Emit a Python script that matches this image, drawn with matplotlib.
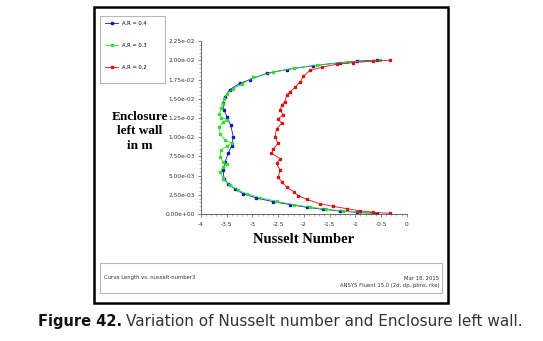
import matplotlib
matplotlib.use("Agg")
import matplotlib.pyplot as plt
from matplotlib.patches import Rectangle
from matplotlib.ticker import MultipleLocator, AutoMinorLocator

# A.R = 0.4 (blue)
ar04_nu = [-0.57, -0.97, -1.30, -1.82, -2.33, -2.72, -3.05, -3.24, -3.44, -3.53,
           -3.57, -3.55, -3.49, -3.42, -3.37, -3.40, -3.47, -3.53, -3.57, -3.55,
           -3.47, -3.34, -3.18, -2.92, -2.59, -2.27, -1.94, -1.62, -1.30, -0.97, -0.57]
ar04_y = [0.02003, 0.0199, 0.0197, 0.0193, 0.0188, 0.0183, 0.0175, 0.0170, 0.0162, 0.01525,
          0.0144, 0.0135, 0.0126, 0.01155, 0.0100, 0.0089, 0.0079, 0.0068, 0.0057, 0.0046,
          0.0039, 0.00326, 0.00265, 0.00208, 0.0016, 0.00122, 0.00087, 0.00061, 0.00039, 0.00022, 0.00004]

# A.R = 0.3 (green)
ar03_nu = [-0.52, -1.17, -1.75, -2.20, -2.59, -2.98, -3.21, -3.37, -3.49, -3.55,
           -3.58, -3.60, -3.64, -3.60, -3.49, -3.57, -3.64, -3.63, -3.53, -3.40,
           -3.50, -3.61, -3.63, -3.57, -3.49, -3.57, -3.62, -3.57, -3.44, -3.27,
           -3.11, -2.85, -2.53, -2.20, -1.88, -1.56, -1.23, -0.91, -0.71]
ar03_y = [0.01998, 0.01976, 0.01937, 0.01898, 0.01846, 0.01777, 0.0169, 0.01633, 0.01568, 0.01503,
          0.01429, 0.01386, 0.01307, 0.01255, 0.01229, 0.01199, 0.01134, 0.01047, 0.0096, 0.00925,
          0.00882, 0.0083, 0.00743, 0.00678, 0.00656, 0.00612, 0.00547, 0.0046, 0.00374, 0.00308,
          0.00265, 0.00213, 0.00165, 0.00122, 0.00091, 0.00061, 0.00039, 0.00022, 0.00009]

# A.R = 0.2 (red)
ar02_nu = [-0.32, -0.65, -1.04, -1.36, -1.65, -1.88, -2.01, -2.07, -2.17, -2.27,
           -2.33, -2.37, -2.43, -2.46, -2.40, -2.50, -2.43, -2.53, -2.56, -2.50,
           -2.59, -2.63, -2.46, -2.53, -2.46, -2.50, -2.43, -2.33, -2.20, -2.11,
           -1.94, -1.69, -1.43, -1.17, -0.91, -0.65, -0.32]
ar02_y = [0.02003, 0.0199, 0.0197, 0.0195, 0.0191, 0.0187, 0.0179, 0.0172, 0.0165, 0.0159,
          0.0155, 0.0146, 0.0142, 0.0135, 0.0129, 0.0124, 0.0118, 0.0111, 0.0100, 0.0092,
          0.0085, 0.0079, 0.0072, 0.0066, 0.0057, 0.0048, 0.0042, 0.0035, 0.0029, 0.0024,
          0.0019, 0.00135, 0.0010, 0.0007, 0.00043, 0.00022, 0.00009]

series = [
    ("A.R = 0.4", ar04_nu, ar04_y, "#1414c8"),
    ("A.R = 0.3", ar03_nu, ar03_y, "#33dd33"),
    ("A.R = 0.2", ar02_nu, ar02_y, "#dd1111"),
]

fig = plt.figure(figsize=(5.43, 3.41), dpi=100)
ax = fig.add_axes([0.370, 0.3724, 0.379, 0.507])

handles = []
for label, xs, ys, col in series:
    h, = ax.plot(xs, ys, color=col, lw=0.6, marker="s", ms=1.7, mec=col, mfc=col, label=label)
    handles.append(h)

ax.set_xlim(-4, 0)
ax.set_ylim(0, 0.0225)
ax.xaxis.set_major_locator(MultipleLocator(0.5))
ax.yaxis.set_major_locator(MultipleLocator(0.0025))
ax.xaxis.set_minor_locator(AutoMinorLocator(5))
ax.yaxis.set_minor_locator(AutoMinorLocator(5))
ax.yaxis.set_major_formatter(plt.FuncFormatter(lambda v, p: f"{v:.2e}"))
ax.xaxis.set_major_formatter(plt.FuncFormatter(lambda v, p: f"{v:g}"))
for s in ["top", "right"]:
    ax.spines[s].set_visible(False)
for s in ["left", "bottom"]:
    ax.spines[s].set_color("#555555")
    ax.spines[s].set_linewidth(0.6)
ax.tick_params(which="major", length=2.5, width=0.5, color="#555555", labelsize=4.2,
               labelcolor="#333333", pad=2)
ax.tick_params(axis="x", which="major", pad=3.5)
ax.tick_params(which="minor", length=1.3, width=0.4, color="#777777")

ax.set_xlabel("Nusselt Number", family="Liberation Serif", weight="bold", fontsize=10.5, labelpad=4)
fig.text(0.257, 0.615, "Enclosure\nleft wall\nin m", family="Liberation Serif", weight="bold",
         fontsize=9.5, ha="center", va="center", linespacing=1.3)

# outer frame, legend box, footer box
fig.add_artist(Rectangle((0.173, 0.111), 0.652, 0.868, transform=fig.transFigure,
                         fill=False, ec="black", lw=1.8))
fig.add_artist(Rectangle((0.184, 0.757), 0.120, 0.196, transform=fig.transFigure,
                         fill=False, ec="#b8b8b8", lw=0.8))
fig.add_artist(Rectangle((0.184, 0.141), 0.630, 0.088, transform=fig.transFigure,
                         fill=False, ec="#b8b8b8", lw=0.8))

fig.legend(handles=handles, loc="upper left", bbox_to_anchor=(0.186, 0.95), frameon=False,
           fontsize=3.8, handlelength=2.6, handletextpad=0.6, labelspacing=3.2, borderpad=0.2)

fig.text(0.191, 0.185, "Curve Length vs. nusselt-number3", fontsize=3.8, color="#333333", va="center")
fig.text(0.809, 0.185, "Mar 18, 2015", fontsize=3.8, color="#333333", va="center", ha="right")
fig.text(0.809, 0.163, "ANSYS Fluent 15.0 (2d, dp, pbns, rke)", fontsize=3.8, color="#333333",
         va="center", ha="right")

t1 = fig.text(0.07, 0.056, "Figure 42.", fontsize=10.5, weight="bold", va="center", color="#111111")
fig.canvas.draw()
bb = t1.get_window_extent()
x2 = (bb.x1 + 4) / fig.bbox.width
fig.text(x2, 0.056, "Variation of Nusselt number and Enclosure left wall.", fontsize=11,
         va="center", color="#333333")

fig.savefig("out.png", dpi=100)
